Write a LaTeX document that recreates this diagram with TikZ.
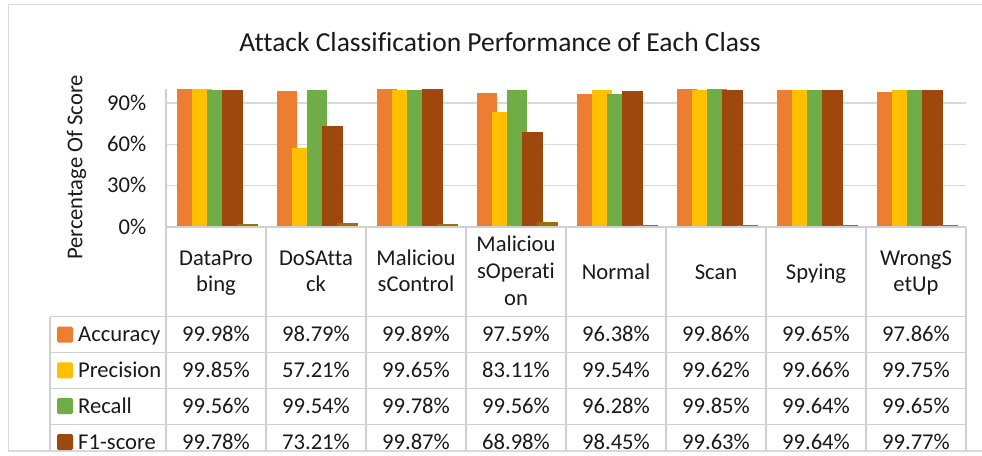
\documentclass[tikz,border=0pt]{standalone}
\usepackage{fontspec}
\setmainfont{Carlito}[Ligatures=NoCommon]
\definecolor{cAcc}{HTML}{ED7D31}
\definecolor{cPre}{HTML}{FFC000}
\definecolor{cRec}{HTML}{70AD47}
\definecolor{cFone}{HTML}{9E480E}
\definecolor{cExtra}{HTML}{997300}
\definecolor{gridgray}{HTML}{D9D9D9}
\definecolor{tablegray}{HTML}{D0D0D0}
\definecolor{txt}{HTML}{1A1A1A}
\begin{document}
\begin{tikzpicture}[x=1pt,y=-1pt,
  grid/.style={draw=gridgray, line width=1.2pt},
  tline/.style={draw=tablegray, line width=1.2pt},
  frame/.style={draw=gridgray, line width=1.3pt},
  bodyfont/.style={font=\fontsize{22.6}{26.7}\selectfont, text=txt, inner sep=0pt},
  hd/.style={bodyfont, align=center, anchor=base},
  val/.style={bodyfont, anchor=base},
  tick/.style={bodyfont, anchor=base east},
  leglab/.style={bodyfont, anchor=base west},
  legsq/.style={minimum size=16pt, inner sep=0pt, rounded corners=1.5pt}]
\useasboundingbox (0,0) rectangle (982,455);
\fill[white] (0,0) rectangle (982,455);

% chart area border
\draw[frame] (990,4.5) -- (8.5,4.5) -- (8.5,451) -- (990,451);

% title and axis title
\node[font=\fontsize{27.5}{33}\selectfont, text=txt, inner sep=0pt, anchor=base] (title) at (500,51.7)
  {Attack Classification Performance of Each Class};
\node[bodyfont, rotate=90, anchor=base] (ytitle) at (82.3,167.5) {Percentage Of Score};

% gridlines and value axis
\foreach \p in {30,60,90}
  \draw[grid] (166,{227-1.3778*\p}) -- (966,{227-1.3778*\p});
\draw[tline] (166,89.3) -- (166,227);
\foreach \p in {0,30,60,90}
  \node[tick] (y\p) at (146.5,{227-1.3778*\p+7.3}) {\p\%};

% bars: accuracy, precision, recall, F1-score and the fifth small series
\foreach \g/\a/\p/\r/\f/\e in {
  1/99.98/99.85/99.56/99.78/1.9,
  2/98.79/57.21/99.54/73.21/2.6,
  3/99.89/99.65/99.78/99.87/1.9,
  4/97.59/83.11/99.56/68.98/3.8,
  5/96.38/99.54/96.28/98.45/1.5,
  6/99.86/99.62/99.85/99.63/1.5,
  7/99.65/99.66/99.64/99.64/1.5,
  8/97.86/99.75/99.65/99.77/1.5}{
  \pgfmathsetmacro\c{116+100*\g}
  \fill[cAcc]   ({\c-39.5},227) rectangle ++(20.5,{-1.3778*\a});
  \fill[cPre]   ({\c-24.3},227) rectangle ++(20.5,{-1.3778*\p});
  \fill[cRec]   ({\c-9.1},227)  rectangle ++(20.5,{-1.3778*\r});
  \fill[cFone]  ({\c+6.1},227)  rectangle ++(20.5,{-1.3778*\f});
  \fill[cExtra] ({\c+21.3},227) rectangle ++(20.5,{-1.3778*\e});
}

% data table grid
\foreach \k in {0,...,8}
  \draw[tline] ({166+100*\k},227) -- ({166+100*\k},451);
\draw[tline] (50,316.7) -- (50,451);
\draw[tline] (166,227) -- (966,227);
\foreach \y in {316.7,352.5,388.3,424.1}
  \draw[tline] (50,\y) -- (966,\y);

% category headers (base anchor sits on the last line)
\node[hd] (h1) at (216,291.9) {DataPro\\bing};
\node[hd] (h2) at (316,291.9) {DoSAtta\\ck};
\node[hd] (h3) at (416,291.9) {Maliciou\\sControl};
\node[hd] (h4) at (516,305.2) {Maliciou\\sOperati\\on};
\node[hd] (h5) at (616,279) {Normal};
\node[hd] (h6) at (716,279) {Scan};
\node[hd] (h7) at (816,279) {Spying};
\node[hd] (h8) at (916,291.9) {WrongS\\etUp};

% legend column
\foreach \i/\col/\lab in {1/cAcc/Accuracy, 2/cPre/Precision, 3/cRec/Recall, 4/cFone/F1-score}{
  \node[legsq, fill=\col] (k\i) at (65,{316.7+35.8*(\i-1)+17.9}) {};
  \node[leglab] (l\i) at (78,{316.7+35.8*(\i-1)+25}) {\lab};
}

% table values
\foreach \r/\vals in {
  1/{99.98,98.79,99.89,97.59,96.38,99.86,99.65,97.86},
  2/{99.85,57.21,99.65,83.11,99.54,99.62,99.66,99.75},
  3/{99.56,99.54,99.78,99.56,96.28,99.85,99.64,99.65},
  4/{99.78,73.21,99.87,68.98,98.45,99.63,99.64,99.77}}{
  \foreach \v [count=\g] in \vals
    \node[val] (v\r-\g) at ({116+100*\g},{316.7+35.8*(\r-1)+25}) {\v\%};
}
\end{tikzpicture}
\end{document}
